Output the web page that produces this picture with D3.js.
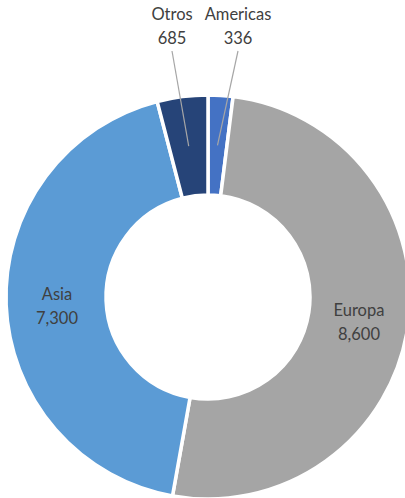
<!DOCTYPE html>
<html>
<head>
<meta charset="utf-8">
<style>
  body { margin: 0; background: #fff; }
  text { font-family: "Lato", "Open Sans", sans-serif; fill: #404040; }
</style>
</head>
<body>
<div id="chart"></div>
<script src="https://d3js.org/d3.v7.min.js"></script>
<script>
  var regions = ["Americas", "Europa", "Asia", "Otros"];
  var values = [336, 8600, 7300, 685];
  var colors = ["#4472C4", "#A5A5A5", "#5B9BD5", "#264478"];

  var width = 405, height = 498;
  var cx = 208, cy = 297;
  var outerR = 202, innerR = 102;

  var data = regions.map(function (r, i) { return { name: r, value: values[i], color: colors[i] }; });

  var svg = d3.select("#chart").append("svg")
    .attr("width", width)
    .attr("height", height);

  var g = svg.append("g").attr("transform", "translate(" + cx + "," + cy + ")");

  var pie = d3.pie().sort(null).value(function (d) { return d.value; });
  var arc = d3.arc().innerRadius(innerR).outerRadius(outerR);
  var arcs = pie(data);

  g.selectAll("path")
    .data(arcs)
    .enter()
    .append("path")
    .attr("d", arc)
    .attr("fill", function (d) { return d.data.color; })
    .attr("stroke", "#fff")
    .attr("stroke-width", 3.5)
    .attr("stroke-linejoin", "miter");

  var fmt = d3.format(",");

  // label placement (offsets from centre, as Excel placed them)
  var labelPos = {
    "Americas": [30, -277],
    "Europa": [151, 19],
    "Asia": [-151, 3],
    "Otros": [-36, -277]
  };

  var fontSize = 16.5;

  arcs.forEach(function (d) {
    var p = labelPos[d.data.name];
    var t = g.append("text")
      .attr("text-anchor", "middle")
      .style("font-size", fontSize + "px");
    t.append("tspan").attr("x", p[0]).attr("y", p[1]).text(d.data.name);
    t.append("tspan").attr("x", p[0]).attr("y", p[1] + 24).text(fmt(d.data.value));

    var small = (d.endAngle - d.startAngle) < 0.4;
    if (small) {
      var c = arc.centroid(d);
      g.append("line")
        .attr("x1", p[0] + (d.data.name === "Americas" ? 0 : 0))
        .attr("y1", p[1] + 31)
        .attr("x2", c[0])
        .attr("y2", c[1])
        .attr("stroke", "#A6A6A6")
        .attr("stroke-width", 1.2);
    }
  });
</script>
</body>
</html>
